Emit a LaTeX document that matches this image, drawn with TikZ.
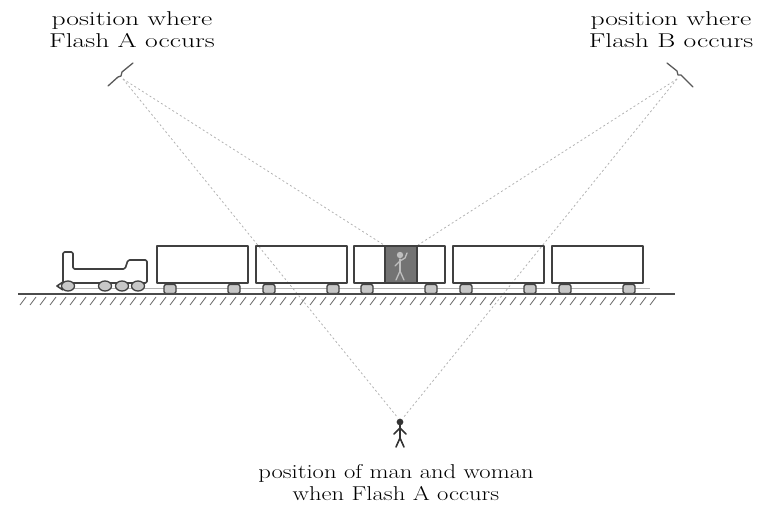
\documentclass[tikz,border=0pt]{standalone}
\usepackage{graphicx}
% horizontally widened, centred multi-line label
\newcommand{\widelabel}[2]{\scalebox{#1}[1]{\begin{tabular}{@{}c@{}}#2\end{tabular}}}
\begin{document}
\begin{tikzpicture}[x=1pt,y=-1pt,
  outline/.style={draw=black!75, line width=1.6pt, line join=round},
  wheelpart/.style={draw=black!75, fill=black!22, line width=1.3pt},
  sight/.style={draw=black!30, line width=0.8pt, dash pattern=on 2pt off 2.5pt},
  flashmark/.style={draw=black!65, line width=1.3pt, line join=round, line cap=round},
  hatchline/.style={draw=black!60, line width=0.8pt},
  caption/.style={anchor=north, inner sep=0pt, text=black,
                  font=\fontsize{20}{22}\selectfont}]
\useasboundingbox (0,0) rectangle (766,505);

% named points for the sight lines
\coordinate (flashA) at (123,79);
\coordinate (flashB) at (677,79);
\coordinate (boxA) at (384,245);
\coordinate (boxB) at (418,245);
\coordinate (manA) at (398,418);
\coordinate (manB) at (403,418);

% sight lines from the flashes
\draw[sight] (flashA) -- (boxA);
\draw[sight] (flashA) -- (manA);
\draw[sight] (flashB) -- (boxB);
\draw[sight] (flashB) -- (manB);

% flash marks
\draw[flashmark] (108,86) -- (118,77) -- (121,76) -- (122,72) -- (133,63);
\draw[flashmark] (667,63) -- (677,71) -- (678,75) -- (681,75) -- (693,87);

% rail under the wheels
\draw[black!30, line width=1pt] (60,288) -- (650,288);

% locomotive
\draw[outline, rounded corners=1.5pt] (63,283) -- (63,252) -- (73,252) -- (73,269)
  -- (125,269) -- (128,260) -- (147,260) -- (147,283) -- cycle;
\draw[outline] (63,282) -- (57,286) -- (63,290);
\foreach \x in {68,105,122,138}
  \draw[wheelpart] (\x,286) ellipse (6.5 and 5);

% carriages with their wheels
\foreach \l in {157,256,354,453,552}{
  \draw[outline] (\l,246) rectangle (\l+91,283);
  \foreach \w in {13,77}
    \draw[wheelpart, rounded corners=2pt] (\l+\w-6,284.5) rectangle (\l+\w+6,293.5);
}

% lit compartment with the passenger
\draw[outline, fill=black!55] (385,246) rectangle (417,283);
\begin{scope}[draw=black!25, line width=1.3pt, line cap=round]
  \draw[fill=black!25] (400,255) circle (2.5);
  \draw (400,259) -- (400,271);
  \draw (400,261) -- (395,266);
  \draw (400,261) -- (405,258) -- (407,253);
  \draw (400,271) -- (396,280);
  \draw (400,271) -- (404,280);
\end{scope}

% ground and hatching
\draw[black!70, line width=2.5pt] (18,294) -- (675,294);
\foreach \x in {26,36,...,656}
  \draw[hatchline] (\x,297) -- (\x-6,305);

% man and woman on the embankment
\begin{scope}[draw=black!80, line width=1.6pt, line cap=round]
  \draw[fill=black!80] (400,422) circle (2.5);
  \draw (400,425) -- (400,438);
  \draw (400,428) -- (394,434);
  \draw (400,428) -- (406,434);
  \draw (400,438) -- (396,447);
  \draw (400,438) -- (404,447);
\end{scope}

% captions
\node[caption] (capA) at (132,9.6) {\widelabel{1.38}{position where\\Flash A occurs}};
\node[caption] (capB) at (671,9.6) {\widelabel{1.38}{position where\\Flash B occurs}};
\node[caption] (capM) at (396,462.6) {\widelabel{1.23}{position of man and woman\\when Flash A occurs}};
\end{tikzpicture}
\end{document}
